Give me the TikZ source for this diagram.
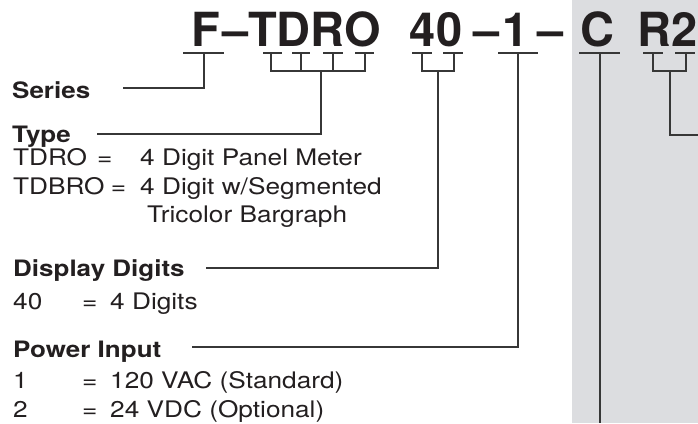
\documentclass[tikz,border=0pt]{standalone}
\usepackage{fontspec}
\setmainfont{TeX Gyre Heros}
\newfontfamily\widefont[FakeStretch=1.15]{TeX Gyre Heros}
\usetikzlibrary{calc}
\definecolor{panel}{RGB}{220,221,224}
\definecolor{ink}{RGB}{35,31,32}
\definecolor{wirecol}{RGB}{55,55,55}
\tikzset{
  code/.style={font=\fontsize{47}{47}\selectfont\bfseries, text=ink, inner sep=0pt, anchor=base},
  head/.style={font=\widefont\fontsize{22.6}{28}\selectfont\bfseries, text=ink, inner sep=0pt, anchor=base west},
  body/.style={font=\widefont\fontsize{22.8}{28}\selectfont, text=ink, inner sep=0pt, anchor=base west},
  wire/.style={draw=wirecol, line width=1.1pt},
}
\begin{document}
\begin{tikzpicture}[x=1pt,y=-1pt]
\useasboundingbox (0,0) rectangle (698,423);
\fill[panel] (572,0) rectangle (698,423);

% code string
\node[code] (cF) at (206,46) {F};
\node[code] (d1) at (235.5,46) {–};
\node[code] (cT) at (314.5,46) {TDRO};
\node[code] (c40) at (436,46) {40};
\node[code] (d2) at (486.5,46) {–};
\node[code] (c1) at (516,46) {1};
\node[code] (d3) at (551,46) {–};
\node[code] (cC) at (597.5,46) {C};
\node[code] (cR) at (668,46) {R2};

% labels
\node[head] (series) at (12,98.5) {Series};
\node[head] (type) at (12,142) {Type};
\node[body] (k1) at (13,165.5) {TDRO};
\node[body] (e1) at (97,165.5) {=};
\node[body] (v1) at (140,165.5) {4 Digit Panel Meter};
\node[body] (k2) at (13,194) {TDBRO};
\node[body] (e2) at ($(k2.base east)+(6,0)$) {=};
\node[body] (v2) at (140,194) {4 Digit w/Segmented};
\node[body] (v3) at (147,222.5) {Tricolor Bargraph};
\node[head] (disp) at (13,276) {Display Digits};
\node[body] (k4) at (13,309) {40};
\node[body] (e4) at (82,309) {=};
\node[body] (v4) at (110,309) {4 Digits};
\node[head] (power) at (13,357) {Power Input};
\node[body] (k5) at (13,388) {1};
\node[body] (e5) at (82,388) {=};
\node[body] (v5) at (110,388) {120 VAC (Standard)};
\node[body] (k6) at (13,417) {2};
\node[body] (e6) at (82,417) {=};
\node[body] (v6) at (110,417) {24 VDC (Optional)};

% tick coordinates
\coordinate (fa) at (183,53); \coordinate (fb) at (224,53); \coordinate (fv) at (204,53);
\coordinate (serEnd) at (123,88);
\coordinate (t1a) at (263,53); \coordinate (t1b) at (282,53); \coordinate (t1v) at (271,53);
\coordinate (t2a) at (292,53); \coordinate (t2b) at (310,53); \coordinate (t2v) at (301,53);
\coordinate (t3a) at (323,53); \coordinate (t3b) at (343,53); \coordinate (t3v) at (333,53);
\coordinate (t4a) at (355,53); \coordinate (t4b) at (374,53); \coordinate (t4v) at (365,53);
\coordinate (tDrop) at (321,71); \coordinate (typeEnd) at (97,134);
\coordinate (n1a) at (412,53); \coordinate (n1b) at (432,53); \coordinate (n1v) at (422,53);
\coordinate (n2a) at (443,53); \coordinate (n2b) at (463,53); \coordinate (n2v) at (454,53);
\coordinate (nDrop) at (438,71); \coordinate (dispEnd) at (206,268);
\coordinate (pa) at (498,53); \coordinate (pb) at (538,53); \coordinate (pv) at (518,53);
\coordinate (powEnd) at (192,347);
\coordinate (ca) at (579,53); \coordinate (cb) at (620,53); \coordinate (cv) at (600,53);
\coordinate (cEnd) at (600,423);
\coordinate (r1a) at (643,53); \coordinate (r1b) at (663,53); \coordinate (r1v) at (653,53);
\coordinate (r2a) at (675,53); \coordinate (r2b) at (695,53); \coordinate (r2v) at (686,53);
\coordinate (rDrop) at (670,71); \coordinate (rEnd) at (698,135);

% Series
\draw[wire] (fa) -- (fb);
\draw[wire] (fv) |- (serEnd);
% Type
\draw[wire] (t1a) -- (t1b) (t2a) -- (t2b) (t3a) -- (t3b) (t4a) -- (t4b);
\draw[wire] (t1v) |- (tDrop -| t4v) -- (t4v);
\draw[wire] (t2v) -- (t2v |- tDrop) (t3v) -- (t3v |- tDrop);
\draw[wire] (tDrop) |- (typeEnd);
% Display digits
\draw[wire] (n1a) -- (n1b) (n2a) -- (n2b);
\draw[wire] (n1v) |- (nDrop -| n2v) -- (n2v);
\draw[wire] (nDrop) |- (dispEnd);
% Power input
\draw[wire] (pa) -- (pb);
\draw[wire] (pv) |- (powEnd);
% C
\draw[wire] (ca) -- (cb);
\draw[wire] (cv) -- (cEnd);
% R2
\draw[wire] (r1a) -- (r1b) (r2a) -- (r2b);
\draw[wire] (r1v) |- (rDrop -| r2v) -- (r2v);
\draw[wire] (rDrop) |- (rEnd);
\end{tikzpicture}
\end{document}
